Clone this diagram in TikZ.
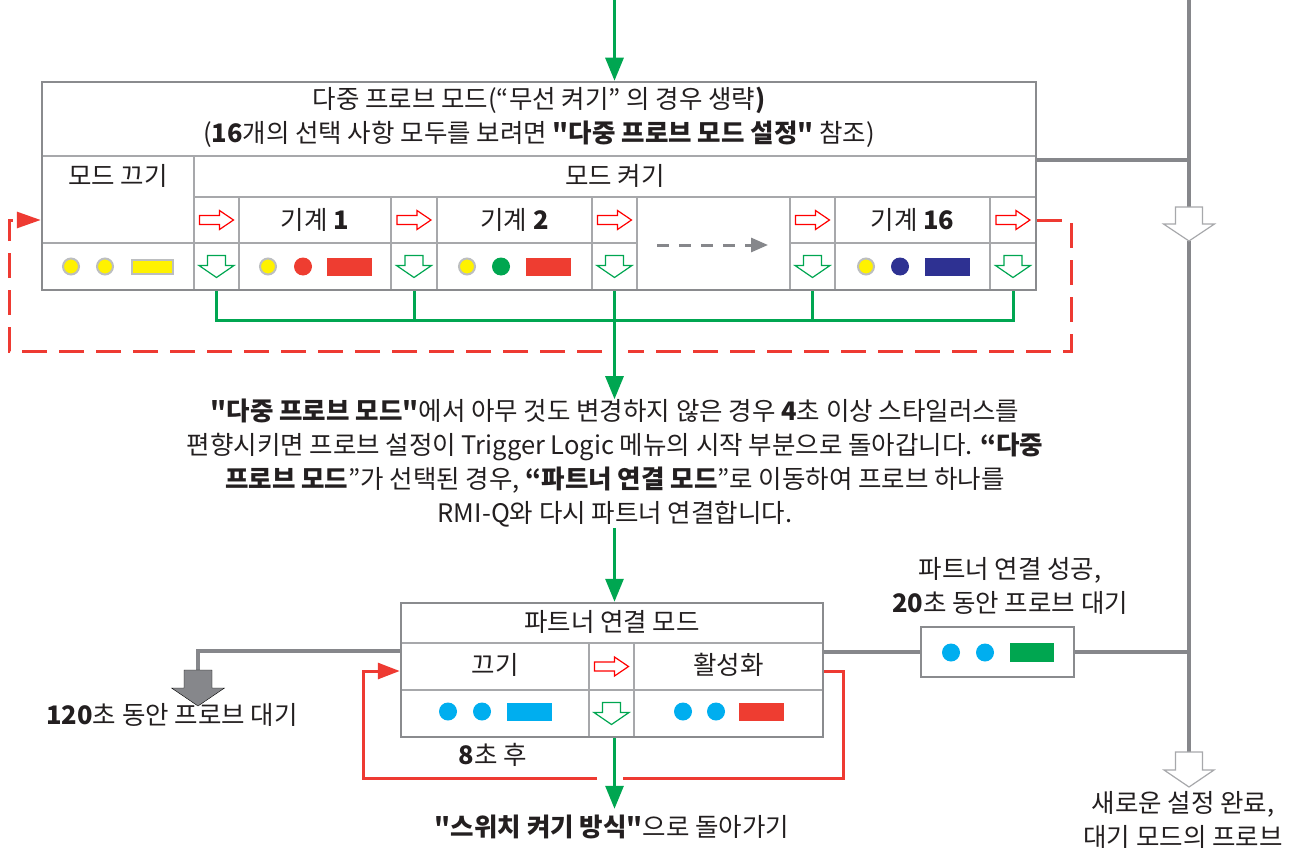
\documentclass[tikz,border=0pt]{standalone}
\usepackage{fontspec}
\setmainfont{Noto Sans CJK KR}[Ligatures=TeXOff]
\usetikzlibrary{arrows.meta}
\definecolor{boxgray}{HTML}{8A8B8E}
\definecolor{cellgray}{HTML}{A7A8AB}
\definecolor{linegray}{HTML}{86878B}
\definecolor{rimgray}{HTML}{BCBEC0}
\definecolor{ledyellow}{HTML}{FFF200}
\definecolor{ledred}{HTML}{EE3D31}
\definecolor{ledgreen}{HTML}{00A650}
\definecolor{lednavy}{HTML}{2E3192}
\definecolor{ledblue}{HTML}{00AEEF}
\definecolor{loopred}{HTML}{EE3A32}
\definecolor{flowgreen}{HTML}{00A651}
\definecolor{textgray}{HTML}{231F20}
\tikzset{
  cellbox/.style={rectangle, draw=cellgray, line width=1.5pt, inner sep=0pt},
  outerbox/.style={rectangle, draw=boxgray, line width=2.5pt, inner sep=0pt},
  txt/.style={font=\fontsize{25.5}{34}\selectfont, text=textgray, inner sep=0pt},
  ydot/.style={circle, fill=ledyellow, draw=rimgray, line width=2pt, minimum size=16pt, inner sep=0pt},
  ybar/.style={rectangle, fill=ledyellow, draw=rimgray, line width=2pt, minimum width=41pt, minimum height=14pt, inner sep=0pt},
  ledot/.style={circle, fill=#1, minimum size=18pt, inner sep=0pt},
  ledbar/.style={rectangle, fill=#1, minimum width=45pt, minimum height=18pt, inner sep=0pt},
  redhollow/.style={draw=red, line width=1.2pt, fill=white},
  greenhollow/.style={draw=flowgreen, line width=1.2pt, fill=white},
  whitearrow/.style={draw=cellgray, line width=1.2pt, fill=white},
  grayarrow/.style={fill=linegray},
  flowline/.style={draw=flowgreen, line width=3pt},
  sideline/.style={draw=linegray, line width=3.5pt},
  loopdash/.style={draw=loopred, line width=3pt, dash pattern=on 25pt off 12pt},
  loopline/.style={draw=loopred, line width=3pt},
  skiparrow/.style={draw=linegray, line width=3pt, dash pattern=on 12pt off 10pt, -{Triangle[length=17pt,width=14pt]}}
}
\newcommand{\rightblock}[6]{\draw[#1, shift={#2}] (-#5/2,-#3) -- (#5/2-#6,-#3) -- (#5/2-#6,-#4) -- (#5/2,0) -- (#5/2-#6,#4) -- (#5/2-#6,#3) -- (-#5/2,#3) -- cycle;}
\newcommand{\downblock}[6]{\draw[#1, shift={#2}] (-#3,-#5/2) -- (#3,-#5/2) -- (#3,#5/2-#6) -- (#4,#5/2-#6) -- (0,#5/2) -- (-#4,#5/2-#6) -- (-#3,#5/2-#6) -- cycle;}
\begin{document}
\begin{tikzpicture}[x=1pt,y=-1pt]
	\useasboundingbox (0,0) rectangle (1298,848);
	\node[cellbox, minimum width=994pt, minimum height=74pt](titleCell) at (539,119){};
	\node[cellbox, minimum width=152pt, minimum height=87pt](offCell) at (118,199.5){};
	\node[cellbox, minimum width=842pt, minimum height=41pt](onCell) at (615,176.5){};
	\node[cellbox, minimum width=152pt, minimum height=47pt](offLeds) at (118,266.5){};
	\node[cellbox, minimum width=45pt, minimum height=46pt](cA1) at (216.5,220){};
	\node[cellbox, minimum width=45pt, minimum height=47pt](cD1) at (216.5,266.5){};
	\node[cellbox, minimum width=152pt, minimum height=46pt](cM1) at (315,220){};
	\node[cellbox, minimum width=152pt, minimum height=47pt](cL1) at (315,266.5){};
	\node[cellbox, minimum width=46pt, minimum height=46pt](cA2) at (414,220){};
	\node[cellbox, minimum width=46pt, minimum height=47pt](cD2) at (414,266.5){};
	\node[cellbox, minimum width=155pt, minimum height=46pt](cM2) at (514.5,220){};
	\node[cellbox, minimum width=155pt, minimum height=47pt](cL2) at (514.5,266.5){};
	\node[cellbox, minimum width=45pt, minimum height=46pt](cA3) at (614.5,220){};
	\node[cellbox, minimum width=45pt, minimum height=47pt](cD3) at (614.5,266.5){};
	\node[cellbox, minimum width=153pt, minimum height=93pt](gapCell) at (713.5,243.5){};
	\node[cellbox, minimum width=45pt, minimum height=46pt](cA4) at (812.5,220){};
	\node[cellbox, minimum width=45pt, minimum height=47pt](cD4) at (812.5,266.5){};
	\node[cellbox, minimum width=155pt, minimum height=46pt](cM16) at (912.5,220){};
	\node[cellbox, minimum width=155pt, minimum height=47pt](cL16) at (912.5,266.5){};
	\node[cellbox, minimum width=46pt, minimum height=46pt](cA5) at (1013,220){};
	\node[cellbox, minimum width=46pt, minimum height=47pt](cD5) at (1013,266.5){};
	\node[outerbox, minimum width=994pt, minimum height=208pt](multiBox) at (539,186){};
	\node[txt](multiTitle) at (539,100){다중 프로브 모드(“무선 켜기” 의 경우 생략\textbf{)}};
	\node[txt](multiNote) at (539,134){(\textbf{16}개의 선택 사항 모두를 보려면 \textbf{"다중 프로브 모드 설정"} 참조)};
	\node[txt](offLabel) at (118,176){모드 끄기};
	\node[txt](onLabel) at (615,176){모드 켜기};
	\node[txt](m1Label) at (cM1){기계 \textbf{1}};
	\node[txt](m2Label) at (cM2){기계 \textbf{2}};
	\node[txt](m16Label) at (cM16){기계 \textbf{16}};
	\rightblock{redhollow}{(cA1)}{4.5}{9.5}{34}{14}
	\rightblock{redhollow}{(cA2)}{4.5}{9.5}{34}{14}
	\rightblock{redhollow}{(cA3)}{4.5}{9.5}{34}{14}
	\rightblock{redhollow}{(cA4)}{4.5}{9.5}{34}{14}
	\rightblock{redhollow}{(cA5)}{4.5}{9.5}{34}{14}
	\downblock{greenhollow}{(cD1)}{9}{17.5}{22}{12}
	\downblock{greenhollow}{(cD2)}{9}{17.5}{22}{12}
	\downblock{greenhollow}{(cD3)}{9}{17.5}{22}{12}
	\downblock{greenhollow}{(cD4)}{9}{17.5}{22}{12}
	\downblock{greenhollow}{(cD5)}{9}{17.5}{22}{12}
	\node[ydot](offLed1) at (71,266.5){};
	\node[ydot](offLed2) at (105,266.5){};
	\node[ybar](offLed3) at (152.5,266.5){};
	\node[ydot](m1Led1) at (268,266.5){};
	\node[ledot=ledred](m1Led2) at (303,266.5){};
	\node[ledbar=ledred](m1Led3) at (349.5,266.5){};
	\node[ydot](m2Led1) at (467,266.5){};
	\node[ledot=ledgreen](m2Led2) at (501,266.5){};
	\node[ledbar=ledred](m2Led3) at (548,266.5){};
	\node[ydot](m16Led1) at (866,266.5){};
	\node[ledot=lednavy](m16Led2) at (900,266.5){};
	\node[ledbar=lednavy](m16Led3) at (947,266.5){};
	\coordinate(skipFrom) at (657,245);
	\coordinate(skipTo) at (768,245);
	\draw[skiparrow] (skipFrom) -- (skipTo);
	\node[txt, align=center](noteText) at (615,463.5){\textbf{"다중 프로브 모드"}에서 아무 것도 변경하지 않은 경우 \textbf{4}초 이상 스타일러스를\\편향시키면 프로브 설정이 Trigger Logic 메뉴의 시작 부분으로 돌아갑니다. \textbf{“다중}\\\textbf{프로브 모드}”가 선택된 경우, \textbf{“파트너 연결 모드}”로 이동하여 프로브 하나를\\RMI-Q와 다시 파트너 연결합니다.};
	\coordinate(flowIn) at (614.5,0);
	\coordinate(greenBus) at (614.5,320);
	\draw[flowline, -{Triangle[length=23pt,width=18pt]}] (flowIn) -- (multiBox.north -| flowIn);
	\draw[flowline] (cD1 |- multiBox.south) |- (cD5 |- greenBus) -- (cD5 |- multiBox.south);
	\draw[flowline] (cD2 |- multiBox.south) -- (cD2 |- greenBus);
	\draw[flowline] (cD4 |- multiBox.south) -- (cD4 |- greenBus);
	\draw[flowline, -{Triangle[length=23pt,width=18pt]}] (cD3 |- multiBox.south) -- (noteText.north -| cD3);
	\coordinate(loopSE) at (1071,351);
	\coordinate(loopSW) at (9,351);
	\coordinate(loopGapR) at (628,351);
	\coordinate(loopGapL) at (602,351);
	\draw[loopdash] (multiBox.east |- cA5) -| (loopSE) -- (loopGapR);
	\draw[loopdash, -{Triangle[length=24pt,width=16pt]}] (loopGapL) -- (loopSW) |- (multiBox.west |- cA1);
	\node[cellbox, minimum width=422pt, minimum height=40pt](pTitleCell) at (612,623){};
	\node[cellbox, minimum width=188pt, minimum height=47pt](pOffCell) at (495,666.5){};
	\node[cellbox, minimum width=45pt, minimum height=47pt](pArrCell) at (611.5,666.5){};
	\node[cellbox, minimum width=189pt, minimum height=47pt](pOnCell) at (728.5,666.5){};
	\node[cellbox, minimum width=188pt, minimum height=47pt](pOffLeds) at (495,713.5){};
	\node[cellbox, minimum width=45pt, minimum height=47pt](pDownCell) at (611.5,713.5){};
	\node[cellbox, minimum width=189pt, minimum height=47pt](pOnLeds) at (728.5,713.5){};
	\node[outerbox, minimum width=422pt, minimum height=134pt](partnerBox) at (612,670){};
	\node[txt](partnerTitle) at (612,622){파트너 연결 모드};
	\node[txt](pOffLabel) at (495,665){끄기};
	\node[txt](pOnLabel) at (728.5,665){활성화};
	\rightblock{redhollow}{(pArrCell)}{4.5}{9.5}{34}{14}
	\downblock{greenhollow}{(pDownCell)}{9}{17.5}{22}{12}
	\node[ledot=ledblue](pOffLed1) at (448,711.5){};
	\node[ledot=ledblue](pOffLed2) at (482,711.5){};
	\node[ledbar=ledblue](pOffLed3) at (529.5,711.5){};
	\node[ledot=ledblue](pOnLed1) at (683,711.5){};
	\node[ledot=ledblue](pOnLed2) at (716,711.5){};
	\node[ledbar=ledred](pOnLed3) at (761,711.5){};
	\draw[flowline, -{Triangle[length=23pt,width=18pt]}] (noteText.south -| cD3) -- (partnerBox.north -| cD3);
	\node[txt](backText) at (612,827){\textbf{"스위치 켜기 방식"}으로 돌아가기};
	\draw[flowline, -{Triangle[length=23pt,width=18pt]}, shorten >=6pt] (partnerBox.south -| cD3) -- (backText.north -| cD3);
	\coordinate(pLoopSE) at (843,778);
	\coordinate(pLoopSW) at (363,778);
	\coordinate(pGapR) at (623,778);
	\coordinate(pGapL) at (597,778);
	\draw[loopline] (partnerBox.east |- 0,671) -| (pLoopSE) -- (pGapR);
	\draw[loopline, -{Triangle[length=22pt,width=16pt]}] (pGapL) -- (pLoopSW) |- (partnerBox.west |- 0,671);
	\node[txt](afterText) at (493,755){\textbf{8}초 후};
	\node[outerbox, minimum width=153pt, minimum height=50pt](okBox) at (997.5,652){};
	\node[ledot=ledblue](okLed1) at (951,652.5){};
	\node[ledot=ledblue](okLed2) at (985,652.5){};
	\node[ledbar=ledgreen, minimum width=44pt, minimum height=19pt](okLed3) at (1032,652.5){};
	\node[txt, align=center](okText) at (1010,585.5){파트너 연결 성공,\\\textbf{20}초 동안 프로브 대기};
	\coordinate(sideTop) at (1189,0);
	\coordinate(probeTail) at (1189,207);
	\coordinate(probeTip) at (1189,241);
	\coordinate(doneTail) at (1189,752);
	\coordinate(waitTail) at (198,670);
	\draw[sideline] (sideTop) -- (probeTail);
	\draw[sideline] (probeTip) -- (doneTail);
	\draw[sideline] (multiBox.east |- 0,160) -- (sideTop |- 0,160);
	\draw[sideline] (partnerBox.east |- okBox) -- (okBox.west);
	\draw[sideline] (okBox.east) -- (sideTop |- okBox);
	\draw[sideline] (partnerBox.west |- 0,651) -| (waitTail);
	\downblock{whitearrow}{(1189,224)}{13.5}{25.5}{34}{17}
	\downblock{whitearrow}{(1189,769.5)}{13.5}{25}{35}{17}
	\downblock{grayarrow}{(198,688)}{14}{26.5}{36}{18}
	\node[txt](waitText) at (172,715){\textbf{120}초 동안 프로브 대기};
	\node[txt, align=center](doneText) at (1183,819.5){새로운 설정 완료,\\대기 모드의 프로브};
\end{tikzpicture}
\end{document}
